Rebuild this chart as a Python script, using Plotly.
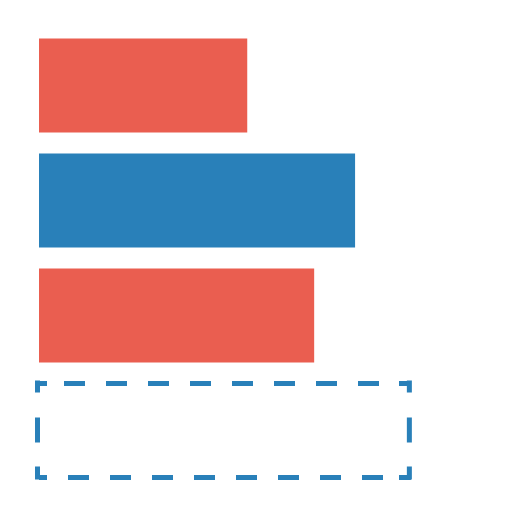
import plotly.graph_objects as go

categories = ["A", "B", "C", "D"]
values = [56, 85, 74, 100]
colors = ["rgb(234,94,80)", "rgb(41,128,185)", "rgb(234,94,80)", "rgba(0,0,0,0)"]
outlined = "D"

BLUE = "rgb(41,128,185)"
LW = 5

fig = go.Figure(
    go.Bar(
        x=values,
        y=categories,
        orientation="h",
        marker=dict(color=colors, line=dict(width=0)),
        hoverinfo="x+y",
        showlegend=False,
    )
)

# dashed outline for the last bar, one side at a time so each side
# gets its own dash layout (corners drawn solid like a css dashed border)
idx = categories.index(outlined)
half = (1 - 0.183) / 2
run = ",".join(["21px,21px"] * 7)
top_dash = "8px,17px," + run + ",21px,20px,40px"
bot_dash = "8px,21px," + run + ",21px,16px,40px"
side_dash = "12px,25px,25px,24px,40px"

line = dict(color=BLUE, width=LW)
fig.add_shape(type="line", xref="x", yref="y", x0=0, x1=values[idx],
              y0=idx - half, y1=idx - half, line=dict(line, dash=top_dash))
fig.add_shape(type="line", xref="x", yref="y", x0=0, x1=values[idx],
              y0=idx + half, y1=idx + half, line=dict(line, dash=bot_dash))
for xa in (0, values[idx]):
    fig.add_shape(type="line", xref="x", yref="y",
                  xsizemode="pixel", xanchor=xa, x0=-1.5, x1=-1.5,
                  ysizemode="pixel", yanchor=idx, y0=50, y1=-49,
                  line=dict(line, dash=side_dash))

# page body has an 8px margin, so the figure is 504 wide/high;
# x range starts a little below 0 so the left outline isn't clipped
fig.update_layout(
    width=504,
    height=504,
    bargap=0.183,
    plot_bgcolor="white",
    paper_bgcolor="white",
    margin=dict(l=23, r=0, t=20, b=24),
    xaxis=dict(range=[-2.151, 127.2], showgrid=False, zeroline=False, showticklabels=False, fixedrange=True),
    yaxis=dict(autorange="reversed", showgrid=False, zeroline=False, showticklabels=False, fixedrange=True),
)

fig.write_html("out.html")
